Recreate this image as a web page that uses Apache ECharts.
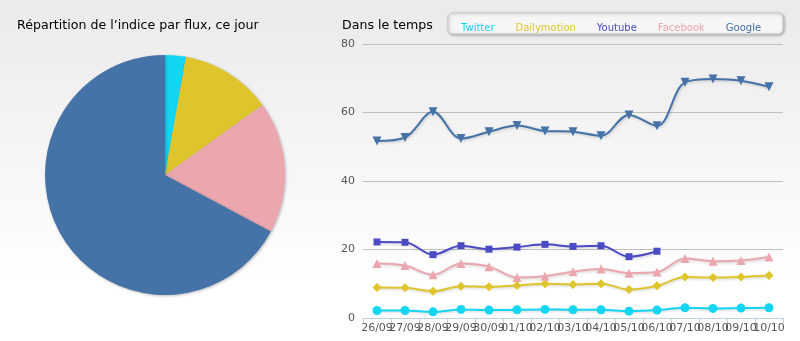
<!DOCTYPE html>
<html>
<head>
<meta charset="utf-8">
<script src="https://cdn.jsdelivr.net/npm/echarts@6/dist/echarts.min.js"></script>
<style>
html,body{margin:0;padding:0;}
#c{width:800px;height:341px;}
</style>
</head>
<body>
<div id="c"></div>
<script>
var categories = ['26/09','27/09','28/09','29/09','30/09','01/10','02/10','03/10','04/10','05/10','06/10','07/10','08/10','09/10','10/10'];
var seriesNames = ['Twitter','Dailymotion','Youtube','Facebook','Google'];
var twitter = [2.2, 2.2, 1.8, 2.5, 2.3, 2.4, 2.5, 2.4, 2.4, 2.0, 2.3, 3.0, 2.8, 2.9, 3.0];
var dailymotion = [8.9, 8.8, 7.8, 9.3, 9.1, 9.5, 10.0, 9.8, 10.0, 8.3, 9.4, 12.0, 11.8, 12.0, 12.4];
var youtube = [22.2, 22.1, 18.5, 21.1, 20.1, 20.7, 21.5, 20.9, 21.1, 17.9, 19.5, null, null, null, null];
var facebook = [15.9, 15.3, 12.6, 15.9, 15.0, 11.8, 12.2, 13.5, 14.3, 13.1, 13.4, 17.4, 16.6, 16.8, 17.8];
var google = [51.7, 52.7, 60.2, 52.4, 54.4, 56.2, 54.6, 54.4, 53.2, 59.3, 56.1, 68.8, 69.8, 69.3, 67.5];
var pieNames = ['Twitter','Dailymotion','Facebook','Google'];
var pieValues = [2.8, 12.3, 17.7, 67.2];
var yTicks = [0, 20, 40, 60, 80];

var colors = {
  Twitter: '#12D6F2',
  Dailymotion: '#DEC52C',
  Youtube: '#4B4BC6',
  Facebook: '#EBA6AE',
  Google: '#4572A7'
};
var symbols = {
  Twitter: ['circle', 0],
  Dailymotion: ['diamond', 0],
  Youtube: ['rect', 0],
  Facebook: ['triangle', 0],
  Google: ['triangle', 180]
};
var lineData = {Twitter: twitter, Dailymotion: dailymotion, Youtube: youtube, Facebook: facebook, Google: google};

var chart = echarts.init(document.getElementById('c'));
var lineSeries = seriesNames.map(function(n){
  return {
    name: n,
    type: 'line',
    smooth: 0.35,
    data: lineData[n],
    symbol: symbols[n][0],
    symbolRotate: symbols[n][1],
    symbolSize: n === 'Youtube' ? 7 : 9,
    showSymbol: true,
    connectNulls: false,
    color: colors[n],
    lineStyle: {width: 2, color: colors[n], shadowColor: 'rgba(0,0,0,0.2)', shadowBlur: 3, shadowOffsetX: 1, shadowOffsetY: 1},
    itemStyle: {color: colors[n]},
    emphasis: {disabled: true},
    animation: false,
    z: 3
  };
});

var option = {
  animation: false,
  backgroundColor: {
    type: 'linear', x: 0, y: 0, x2: 0, y2: 1,
    colorStops: [{offset: 0, color: '#EAEAEA'}, {offset: 0.85, color: '#FFFFFF'}, {offset: 1, color: '#FFFFFF'}]
  },
  title: [
    {text: 'Répartition de l’indice par flux, ce jour', left: 12, top: 14,
     textStyle: {fontFamily: 'DejaVu Sans', fontSize: 12.6, fontWeight: 'normal', color: '#000'}},
    {text: 'Dans le temps', left: 337, top: 14,
     textStyle: {fontFamily: 'DejaVu Sans', fontSize: 12.6, fontWeight: 'normal', color: '#000'}}
  ],
  graphic: [{
    type: 'rect',
    shape: {x: 448, y: 13, width: 335, height: 21, r: 5},
    style: {fill: '#F6F6F6', stroke: '#CCCCCC', lineWidth: 1, shadowColor: 'rgba(0,0,0,0.3)', shadowBlur: 3, shadowOffsetX: 1, shadowOffsetY: 1},
    z: 1
  }],
  legend: {
    left: 451,
    top: 18,
    itemWidth: 0,
    itemHeight: 0,
    itemGap: 16,
    icon: 'none',
    selectedMode: false,
    textStyle: {fontFamily: 'DejaVu Sans', fontSize: 10},
    data: seriesNames.map(function(n){ return {name: n, textStyle: {color: colors[n]}}; }),
    z: 5
  },
  grid: {left: 363, right: 17, top: 44, bottom: 23, containLabel: false},
  xAxis: {
    type: 'category',
    data: categories,
    boundaryGap: true,
    axisLine: {lineStyle: {color: '#C0D0E0', width: 1}},
    axisTick: {show: true, alignWithLabel: false, length: 5, lineStyle: {color: '#C0D0E0'}},
    axisLabel: {interval: 0, color: '#555', fontFamily: 'DejaVu Sans', fontSize: 11, margin: 5, hideOverlap: false},
    splitLine: {show: false}
  },
  yAxis: {
    type: 'value',
    min: yTicks[0],
    max: yTicks[yTicks.length - 1],
    interval: 20,
    axisLine: {show: false},
    axisTick: {show: false},
    axisLabel: {color: '#555', fontFamily: 'DejaVu Sans', fontSize: 11, margin: 8},
    splitLine: {lineStyle: {color: '#C0C0C0', width: 1}}
  },
  series: [{
    type: 'pie',
    center: [165, 175],
    radius: 120,
    startAngle: 90,
    clockwise: true,
    label: {show: false},
    labelLine: {show: false},
    silent: true,
    emphasis: {disabled: true},
    itemStyle: {borderWidth: 0, shadowColor: 'rgba(0,0,0,0.25)', shadowBlur: 3, shadowOffsetX: 1, shadowOffsetY: 1},
    data: pieNames.map(function(n, i){ return {name: n + ' ', value: pieValues[i], itemStyle: {color: colors[n]}}; })
  }].concat(lineSeries)
};
chart.setOption(option);
</script>
</body>
</html>
